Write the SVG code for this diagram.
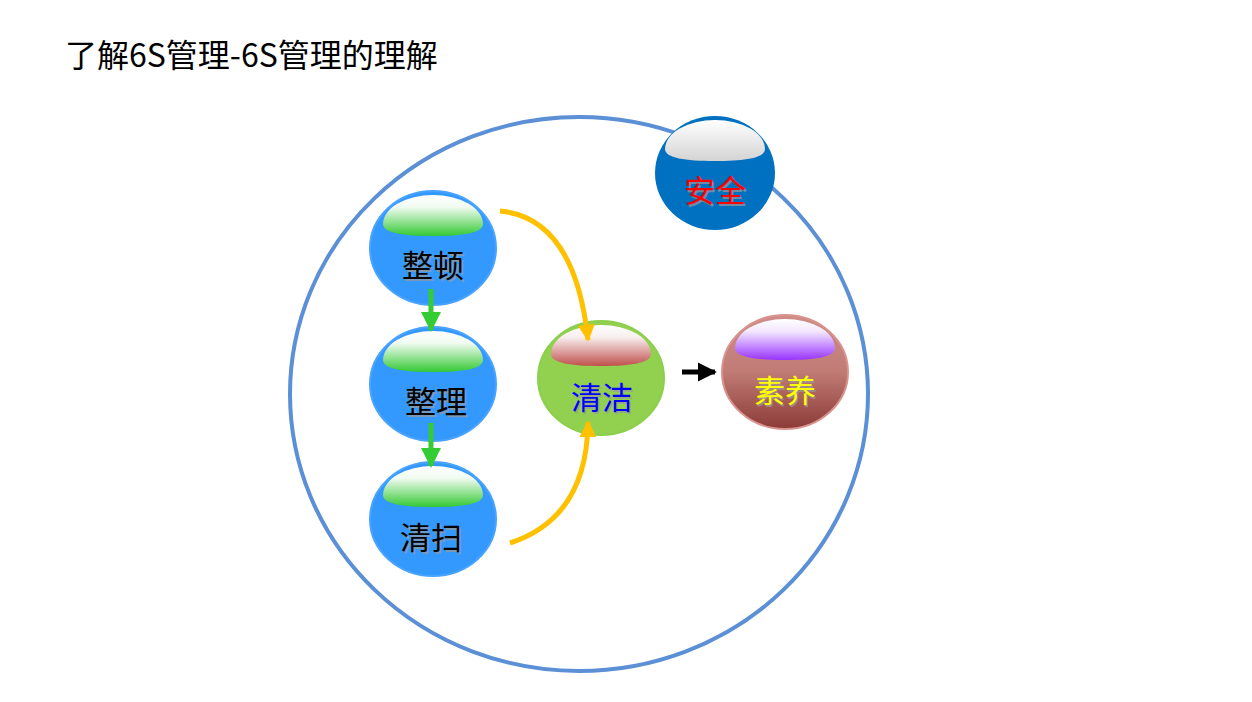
<svg xmlns="http://www.w3.org/2000/svg" width="1252" height="702" viewBox="0 0 1252 702">
<style>
.t{font-family:"Noto Sans CJK SC","Liberation Sans",sans-serif;text-anchor:middle}
.lbl{font-size:31px}
.sh{fill:#9a9a9a;opacity:.7}
.conn{fill:none;stroke-width:5}
</style>
<defs>
<linearGradient id="gG" x1="0" y1="0" x2="0" y2="1"><stop offset="0" stop-color="#ffffff"/><stop offset="0.3" stop-color="#f0fbf0"/><stop offset="1" stop-color="#33c933"/></linearGradient>
<linearGradient id="gR" x1="0" y1="0" x2="0" y2="1"><stop offset="0" stop-color="#ffffff"/><stop offset="0.3" stop-color="#f8eeee"/><stop offset="1" stop-color="#c0504d"/></linearGradient>
<linearGradient id="gP" x1="0" y1="0" x2="0" y2="1"><stop offset="0" stop-color="#ffffff"/><stop offset="0.3" stop-color="#f3e8ff"/><stop offset="1" stop-color="#9933ff"/></linearGradient>
<linearGradient id="gW" x1="0" y1="0" x2="0" y2="1"><stop offset="0" stop-color="#ffffff"/><stop offset="1" stop-color="#d4d4d4"/></linearGradient>
<linearGradient id="gB" x1="0" y1="0" x2="0" y2="1"><stop offset="0" stop-color="#cf8d88"/><stop offset="0.5" stop-color="#c07b75"/><stop offset="1" stop-color="#8c3b37"/></linearGradient>
<marker id="aG" viewBox="0 0 10 10" refX="9" refY="5" markerWidth="4.4" markerHeight="4" orient="auto" markerUnits="strokeWidth"><path d="M0,0L10,5L0,10z" fill="#33cc33"/></marker>
<marker id="aY" viewBox="0 0 10 10" refX="9" refY="5" markerWidth="3.4" markerHeight="3.4" orient="auto" markerUnits="strokeWidth"><path d="M0,0L10,5L0,10z" fill="#ffc000"/></marker>
<marker id="aK" viewBox="0 0 10 10" refX="9" refY="5" markerWidth="3.8" markerHeight="4.4" orient="auto" markerUnits="strokeWidth"><path d="M0,0L10,5L0,10z" fill="#000"/></marker>
<path id="cap" d="M-50,-24 A50,29 0 0 1 50,-24 C50,-15 30,-12 0,-12 C-30,-12 -50,-15 -50,-24Z"/>
</defs>
<rect width="1252" height="702" fill="#fff"/>
<text class="t" x="65" y="67" font-size="32" style="text-anchor:start" fill="#000">了解6S管理-6S管理的理解</text>

<g id="outer"><ellipse cx="579" cy="394" rx="289" ry="277" fill="none" stroke="#5b8fd6" stroke-width="4"/></g>

<g id="n-zhengdun">
<ellipse cx="433" cy="248" rx="63" ry="57" fill="#3399ff" stroke="#4aa3ff" stroke-width="2"/>
<use href="#cap" transform="translate(433,248)" fill="url(#gG)"/>
<text class="t lbl sh" x="434.5" y="278.5">整顿</text>
<text class="t lbl" x="433" y="277" fill="#000">整顿</text>
</g>
<g id="n-zhengli">
<ellipse cx="433" cy="384" rx="63" ry="57" fill="#3399ff" stroke="#4aa3ff" stroke-width="2"/>
<use href="#cap" transform="translate(433,384)" fill="url(#gG)"/>
<text class="t lbl sh" x="437.5" y="414.5">整理</text>
<text class="t lbl" x="436" y="413" fill="#000">整理</text>
</g>
<g id="n-qingsao">
<ellipse cx="433" cy="519" rx="63" ry="57" fill="#3399ff" stroke="#4aa3ff" stroke-width="2"/>
<use href="#cap" transform="translate(433,519)" fill="url(#gG)"/>
<text class="t lbl sh" x="432.5" y="550.5">清扫</text>
<text class="t lbl" x="431" y="549" fill="#000">清扫</text>
</g>
<g id="n-qingjie">
<ellipse cx="601" cy="378" rx="63" ry="57" fill="#92d050" stroke="#8ccf4d" stroke-width="2"/>
<use href="#cap" transform="translate(601,378)" fill="url(#gR)"/>
<text class="t lbl sh" x="603.5" y="410.5">清洁</text>
<text class="t lbl" x="602" y="409" fill="#0000ff">清洁</text>
</g>
<g id="n-suyang">
<ellipse cx="785" cy="372" rx="63" ry="57" fill="url(#gB)" stroke="#d9928d" stroke-width="2"/>
<use href="#cap" transform="translate(785,372)" fill="url(#gP)"/>
<text class="t lbl sh" x="786.5" y="403.5">素养</text>
<text class="t lbl" x="785" y="402" fill="#ffff00">素养</text>
</g>
<g id="n-anquan">
<ellipse cx="715" cy="173" rx="60" ry="57" fill="#0070c0"/>
<use href="#cap" transform="translate(715,173)" fill="url(#gW)"/>
<text class="t lbl sh" x="716.5" y="203.5">安全</text>
<text class="t lbl" x="715" y="202" fill="#ff0000">安全</text>
</g>

<g id="connectors">
<line class="conn" x1="431" y1="289" x2="431" y2="330" stroke="#33cc33" marker-end="url(#aG)"/>
<line class="conn" x1="431" y1="423" x2="431" y2="466" stroke="#33cc33" marker-end="url(#aG)"/>
<path class="conn" d="M500,211 Q575,218 588,340" stroke="#ffc000" marker-end="url(#aY)"/>
<path class="conn" d="M510,543 Q587,518 588,422" stroke="#ffc000" marker-end="url(#aY)"/>
<line x1="682" y1="372" x2="715" y2="372" stroke="#000" stroke-width="5" marker-end="url(#aK)"/>
</g>
</svg>
